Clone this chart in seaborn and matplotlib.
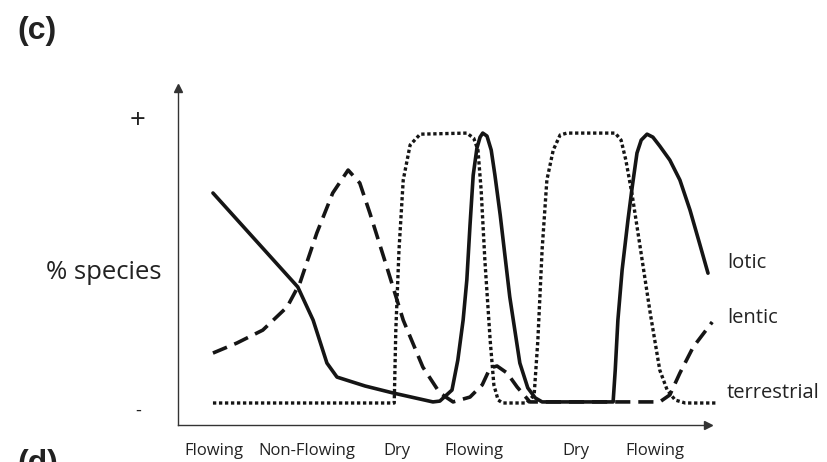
import matplotlib
matplotlib.use("Agg")
import matplotlib.pyplot as plt
import seaborn as sns
import pandas as pd

# values: x = time along the hydrological sequence (0-10),
# y = % species (0 = baseline "-", 100 = plateau "+")
lotic_x = [0.66, 2.26, 2.55, 2.81, 3.00, 3.53, 4.06, 4.81, 4.94, 5.17, 5.28, 5.38, 5.45, 5.51,
           5.57, 5.64, 5.70, 5.75, 5.83, 5.91, 5.98, 6.08, 6.26, 6.45, 6.60, 6.74, 6.87, 8.21,
           8.25, 8.30, 8.38, 8.49, 8.57, 8.66, 8.74, 8.85, 8.96, 9.09, 9.28, 9.47, 9.66, 9.85,
           10.0]
lotic_y = [77.8, 43.0, 30.7, 14.8, 9.6, 6.3, 3.7, 0.4, 0.7, 4.8, 15.9, 30.7, 45.6, 65.9,
           84.4, 94.4, 98.5, 100, 98.9, 93.7, 84.4, 69.6, 39.3, 14.8, 5.6, 1.9, 0.4, 0.4,
           12.2, 30.7, 49.3, 67.8, 80.0, 92.6, 97.4, 99.6, 98.5, 95.2, 90.0, 82.6, 71.5, 58.5,
           48.1]

lentic_x = [0.66, 1.11, 1.60, 2.06, 2.30, 2.62, 2.92, 3.21, 3.43, 3.62, 3.94, 4.25, 4.62, 4.94,
            5.19, 5.51, 5.74, 5.89, 6.02, 6.21, 6.40, 6.64, 9.09, 9.28, 9.47, 9.72, 10.08]
lentic_y = [18.5, 22.2, 27.0, 35.6, 44.4, 63.0, 77.8, 86.3, 81.5, 70.4, 50.4, 30.7, 13.3, 3.7,
            0.4, 2.2, 6.7, 13.0, 13.7, 11.1, 5.9, 0.4, 0.4, 3.0, 11.1, 20.7, 30.0]

terr_x = [0.66, 4.08, 4.11, 4.17, 4.25, 4.38, 4.57, 5.45, 5.58, 5.66, 5.72, 5.79, 5.89, 5.96,
          6.04, 6.13, 6.58, 6.72, 6.79, 6.87, 6.96, 7.08, 7.21, 7.34, 8.25, 8.36, 8.45, 8.57,
          8.72, 8.91, 9.09, 9.23, 9.38, 9.57, 10.17]
terr_y = [0, 0, 27.0, 56.7, 82.6, 95.6, 99.6, 100, 98.1, 93.7, 78.9, 53.0, 23.3, 6.7,
          1.1, 0, 0, 3.0, 23.3, 56.7, 82.6, 93.7, 99.3, 100, 100, 97.4, 90.0, 77.0,
          57.8, 33.3, 12.2, 4.8, 1.1, 0, 0]

phase_pos = [0.68, 2.43, 4.13, 5.58, 7.51, 9.0]
phase_labels = ["Flowing", "Non-Flowing", "Dry", "Flowing", "Dry", "Flowing"]

series_names = ["lotic", "lentic", "terrestrial"]
name_y = [51.9, 31.5, 3.7]

sns.set_theme(style="white")
plt.rcParams['font.family'] = ['Open Sans', 'DejaVu Sans']

fig = plt.figure(figsize=(8.27, 4.62), dpi=100)
ax = fig.add_axes([0.2152, 0.0801, 0.6409, 0.7294])

ink = "#151515"
lotic = pd.DataFrame({"x": lotic_x, "y": lotic_y})
lentic = pd.DataFrame({"x": lentic_x, "y": lentic_y})
terr = pd.DataFrame({"x": terr_x, "y": terr_y})

sns.lineplot(data=terr, x="x", y="y", sort=False, estimator=None, ax=ax, color=ink,
             linewidth=2.4, linestyle=(0, (1, 0.8)), dash_capstyle="butt", clip_on=False)
sns.lineplot(data=lentic, x="x", y="y", sort=False, estimator=None, ax=ax, color=ink,
             linewidth=2.6, linestyle=(0, (4.2, 2.2)), dash_capstyle="butt", clip_on=False)
sns.lineplot(data=lotic, x="x", y="y", sort=False, estimator=None, ax=ax, color=ink,
             linewidth=2.6, solid_capstyle="round", solid_joinstyle="round", clip_on=False)

ax.set_xlim(0, 10)
ax.set_ylim(-8.15, 116.7)

# axes with arrow heads
for side in ["top", "right"]:
    ax.spines[side].set_visible(False)
for side in ["left", "bottom"]:
    ax.spines[side].set_color("#333333")
    ax.spines[side].set_linewidth(1.0)
ax.plot(1, 0, ">", color="#333333", markersize=6, transform=ax.transAxes, clip_on=False)
ax.plot(0, 1, "^", color="#333333", markersize=6, transform=ax.transAxes, clip_on=False)

ax.set_xticks(phase_pos, phase_labels)
ax.set_yticks([105.6, -2.2], ["+", "-"])
ax.tick_params(axis="x", length=0, pad=13, labelsize=12, labelcolor="#222222")
ax.tick_params(axis="y", length=0, pad=29, labelcolor="#222222")
for lab, size in zip(ax.get_yticklabels(), [20, 13]):
    lab.set_fontsize(size)
    lab.set_ha("center")
ax.set_xlabel("")
ax.set_ylabel("% species", rotation=0, fontsize=18.5, color="#222222", ha="center", va="center")
ax.yaxis.set_label_coords(-0.1406, 0.454)

for name, yy in zip(series_names, name_y):
    ax.text(10.36, yy, name, ha="left", va="center", fontsize=14.5, color="#222222")

fig.text(17 / 827, 1 - 31 / 462, "(c)", ha="left", va="center", fontsize=23,
         fontweight="bold", family=["Liberation Sans", "DejaVu Sans"], color="#222222")
fig.text(17 / 827, 1 - 449 / 462, "(d)", ha="left", va="top", fontsize=23,
         fontweight="bold", family=["Liberation Sans", "DejaVu Sans"], color="#222222")

fig.savefig("out.png", dpi=100)
